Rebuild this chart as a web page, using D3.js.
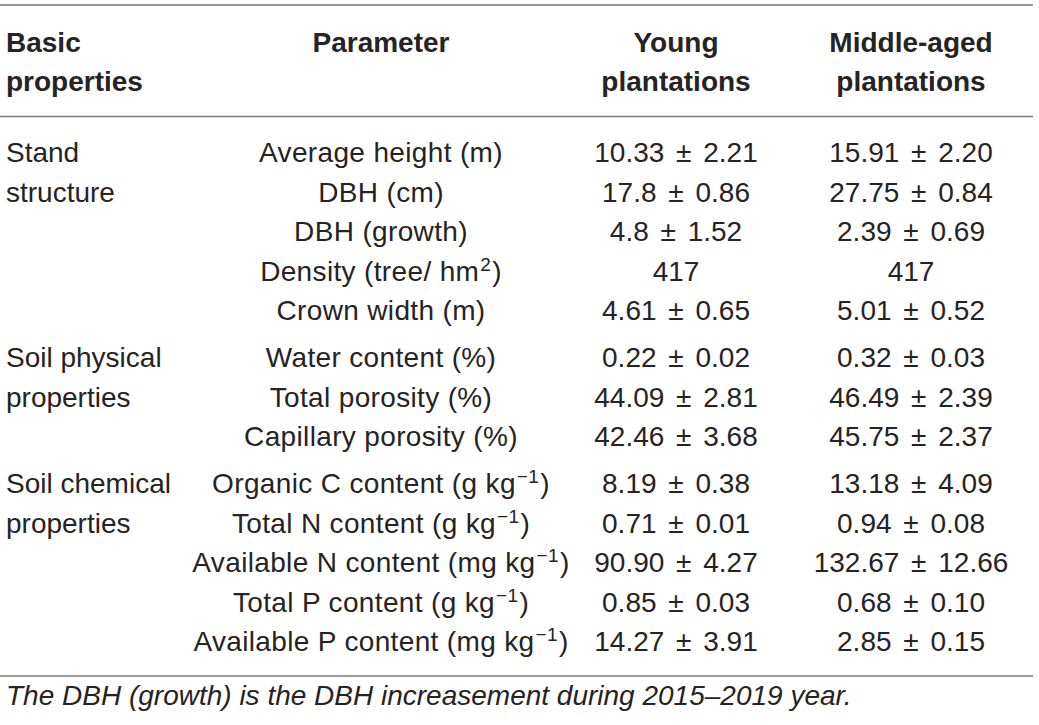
<!DOCTYPE html>
<html><head><meta charset="utf-8">
<script src="https://cdn.jsdelivr.net/npm/d3@7"></script>
<style>
html,body{margin:0;padding:0;background:#fff;}
svg text{font-family:"Liberation Sans",Arial,Helvetica,sans-serif;fill:#262324;}
</style></head>
<body>
<svg id="t" width="1039" height="725"></svg>
<script>
const headers = [["Basic","properties"],["Parameter"],["Young","plantations"],["Middle-aged","plantations"]];
const groups = [["Stand","structure"],["Soil physical","properties"],["Soil chemical","properties"]];
const groupOf = [0,0,0,0,0,1,1,1,2,2,2,2,2];
const params = ["Average height (m)","DBH (cm)","DBH (growth)","Density (tree/ hm^2)","Crown width (m)",
  "Water content (%)","Total porosity (%)","Capillary porosity (%)",
  "Organic C content (g kg^−1)","Total N content (g kg^−1)","Available N content (mg kg^−1)","Total P content (g kg^−1)","Available P content (mg kg^−1)"];
const young = ["10.33 ± 2.21","17.8 ± 0.86","4.8 ± 1.52","417","4.61 ± 0.65","0.22 ± 0.02","44.09 ± 2.81","42.46 ± 3.68","8.19 ± 0.38","0.71 ± 0.01","90.90 ± 4.27","0.85 ± 0.03","14.27 ± 3.91"];
const middle = ["15.91 ± 2.20","27.75 ± 0.84","2.39 ± 0.69","417","5.01 ± 0.52","0.32 ± 0.03","46.49 ± 2.39","45.75 ± 2.37","13.18 ± 4.09","0.94 ± 0.08","132.67 ± 12.66","0.68 ± 0.10","2.85 ± 0.15"];
const footnote = "The DBH (growth) is the DBH increasement during 2015–2019 year.";

const svg = d3.select("#t");
const FS = 28;
const colX = d3.scaleOrdinal().domain([0,1,2,3]).range([6,381,676,911]);
const anchors = ["start","middle","middle","middle"];
const rowY = d3.scaleLinear().domain([0,1]).range([162,201.5]);
const groupGap = 7.5;
const yOf = i => rowY(i) + groupOf[i]*groupGap;
const lineC = "#7a7a7a";

function hline(y){
  svg.append("line").attr("x1",0).attr("x2",1033).attr("y1",y).attr("y2",y)
    .attr("stroke",lineC).attr("stroke-width",1.5);
}
hline(5); hline(116.5); hline(676);

headers.forEach((h,c)=>{
  h.forEach((s,k)=>{
    svg.append("text").attr("x",colX(c)).attr("y",52+k*38.5)
      .attr("text-anchor",anchors[c]).attr("font-weight","bold").attr("font-size",FS).text(s);
  });
});

function richText(sel, str){
  const parts = str.split("^");
  sel.append("tspan").text(parts[0]);
  if(parts.length>1){
    sel.append("tspan").attr("dy",-10).attr("font-size",FS*0.68).attr("dx",1).text(parts[1]);
    sel.append("tspan").attr("dy",10).attr("dx",1).text(")");
  }
}

groups.forEach((g,gi)=>{
  const first = groupOf.indexOf(gi);
  g.forEach((s,k)=>{
    svg.append("text").attr("x",colX(0)).attr("y",yOf(first)+k*39.5)
      .attr("font-size",FS).text(s);
  });
});

params.forEach((p,i)=>{
  const label = p.includes("^") ? p.replace(/\)$/,"") : p;
  const t = svg.append("text").attr("x",colX(1)).attr("y",yOf(i))
    .attr("text-anchor","middle").attr("font-size",FS).attr("letter-spacing",0.35);
  richText(t,label);
  [[young,2],[middle,3]].forEach(([arr,c])=>{
    svg.append("text").attr("x",colX(c)).attr("y",yOf(i)).attr("text-anchor","middle")
      .attr("font-size",FS).attr("word-spacing",4).text(arr[i]);
  });
});

svg.append("text").attr("x",6).attr("y",705).attr("font-size",FS).attr("font-style","italic").text(footnote);
</script>
</body></html>
